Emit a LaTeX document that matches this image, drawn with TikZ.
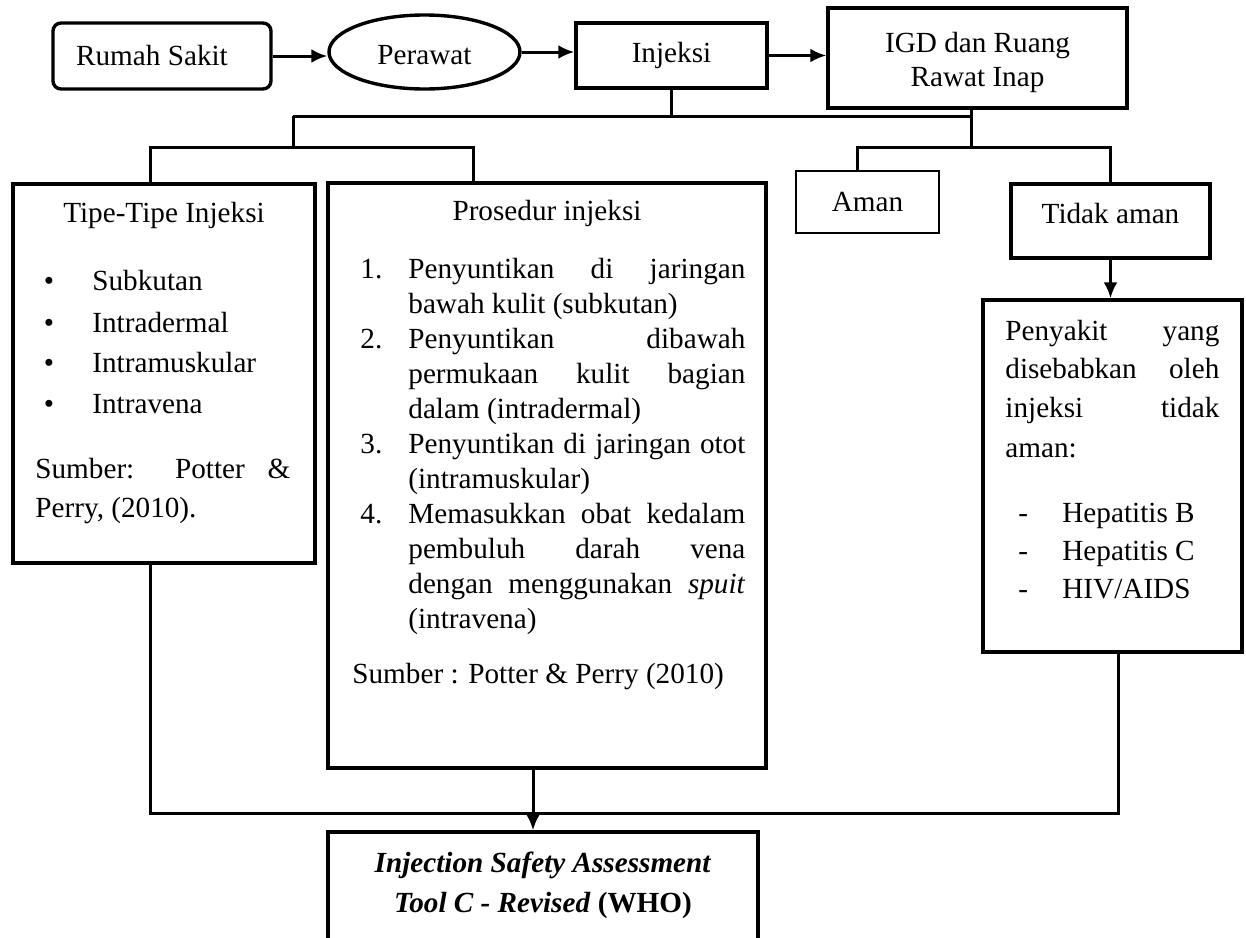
\documentclass[tikz,border=0pt]{standalone}
\usepackage{fontspec}
\setmainfont{Liberation Serif}
\usetikzlibrary{shapes.geometric, arrows.meta}
\tikzset{>={Latex[length=8pt, width=7pt]}}
\tikzset{
  kotak/.style={shape=rectangle, draw, line width=1.7pt, inner sep=0pt},
  garis/.style={draw, line width=1.5pt},
  teks/.style={anchor=base west, inner sep=0pt},
}
\newcommand{\regang}[2][168.5pt]{\makebox[#1][s]{#2}}

\begin{document}
\begin{tikzpicture}[x=0.5pt, y=-0.5pt, font=\fontsize{14.6}{17}\selectfont]
    \clip (0,0) rectangle (1246,937);

    % baris atas
    \node at (162, 56) (rs) [kotak, rounded corners=4pt, minimum width=109pt, minimum height=33pt] {Rumah Sakit\kern10pt};
    \node at (424.5, 52) (per) [shape=ellipse, draw, line width=1.7pt, inner sep=0pt, text height=13pt, minimum width=95.5pt, minimum height=37pt] {Perawat};
    \node at (671.5, 55.5) (inj) [kotak, minimum width=95.5pt, minimum height=32.5pt] {Injeksi};
    \node at (977.5, 58) (igd) [kotak, align=center, minimum width=149.5pt, minimum height=50pt] {\rule{0pt}{15pt}IGD dan Ruang\\Rawat Inap};

    \path[->, draw, garis] (rs.east) -- (rs.east -| per.west);
    \path[->, draw, garis] (per.east) -- (per.east -| inj.west);
    \path[->, draw, garis] (inj.east) -- (inj.east -| igd.west);

    % kotak tengah
    \node at (164, 373.5) (tipe) [kotak, minimum width=151pt, minimum height=189.5pt] {};
    \node at (547, 475.5) (pros) [kotak, minimum width=219pt, minimum height=292.5pt] {};
    \node at (867.5, 202) (aman) [kotak, line width=1.3pt, inner sep=0pt, minimum width=71.5pt, minimum height=31pt] {Aman};
    \node at (1110.5, 221) (tidak) [kotak, text depth=8pt, minimum width=99.5pt, minimum height=37pt] {Tidak aman};
    \node at (1112.5, 476) (peny) [kotak, minimum width=129.5pt, minimum height=176pt] {};
    \node at (543, 916) (who) [kotak, minimum width=215pt, minimum height=84pt] {};

    % cabang
    \coordinate (bagi1) at (293, 116);
    \coordinate (bagi2) at (293, 147);
    \coordinate (igdbawah) at ([xshift=-3pt]igd.south);
    \coordinate (tipeatas) at ([xshift=-7pt]tipe.north);
    \coordinate (prosatas) at ([xshift=-37pt]pros.north);
    \coordinate (amanatas) at ([xshift=-5pt]aman.north);
    \draw[garis] (inj.south) -- (inj.south |- bagi1);
    \draw[garis] (bagi1) -- (bagi1 -| igdbawah);
    \draw[garis] (bagi1) -- (bagi2);
    \draw[garis] (tipeatas) |- (bagi2) -| (prosatas);
    \draw[garis] (igdbawah) -- (igdbawah |- bagi2);
    \draw[garis] (amanatas) -- (amanatas |- bagi2) -| (tidak.north);
    \path[->, draw, garis] (tidak.south) -- (peny.north -| tidak.south);

    % gabungan bawah
    \coordinate (tipebawah) at ([xshift=-7pt]tipe.south);
    \coordinate (penybawah) at ([xshift=2.75pt]peny.south);
    \coordinate (prosbawah) at ([xshift=-7pt]pros.south);
    \coordinate (gabung) at (0, 813);
    \draw[garis] (tipebawah) |- (penybawah |- gabung) -- (penybawah);
    \path[->, draw, garis] (prosbawah) -- (prosbawah |- who.north);

    % isi Tipe-Tipe Injeksi
    \node at (164, 222) (tipe-judul) [anchor=base, inner sep=0pt] {Tipe-Tipe Injeksi};
    \foreach \y/\isi [count=\i] in {290/Subkutan, 332/Intradermal, 372/Intramuskular, 413/Intravena} {
      \node at (49, \y) (tipe-b\i) [anchor=base, inner sep=0pt] {\textbullet};
      \node at (92, \y) (tipe-i\i) [teks] {\isi};
    }
    \node at (35, 478) (tipe-s1) [teks] {\regang[127.5pt]{Sumber: Potter \&}};
    \node at (35, 517) (tipe-s2) [teks] {Perry, (2010).};

    % isi Prosedur injeksi
    \node at (547, 220) (pros-judul) [anchor=base, inner sep=0pt] {Prosedur injeksi};
    \foreach \y/\no in {278/1., 348/2., 453/3., 523/4.} {
      \node at (360, \y) (pros-n\no) [teks] {\no};
    }
    \foreach \y/\isi [count=\i] in {
        278/{\regang{Penyuntikan di jaringan}},
        313/{bawah kulit (subkutan)},
        348/{\regang{Penyuntikan dibawah}},
        383/{\regang{permukaan kulit bagian}},
        418/{dalam (intradermal)},
        453/{\regang{Penyuntikan di jaringan otot}},
        488/{(intramuskular)},
        523/{\regang{Memasukkan obat kedalam}},
        558/{\regang{pembuluh darah vena}},
        593/{\regang{dengan menggunakan \textit{spuit}}},
        628/{(intravena)}} {
      \node at (408, \y) (pros-l\i) [teks] {\isi};
    }
    \node at (352, 683) (pros-s) [teks] {Sumber : Potter \& Perry (2010)};

    % isi Penyakit
    \node at (1005, 340) (peny-1) [teks] {\regang[107pt]{Penyakit yang}};
    \node at (1005, 378) (peny-2) [teks] {\regang[107pt]{disebabkan oleh}};
    \node at (1005, 417) (peny-3) [teks] {\regang[107pt]{injeksi tidak}};
    \node at (1005, 457) (peny-4) [teks] {aman:};
    \foreach \y/\isi [count=\i] in {522/{Hepatitis B}, 560/{Hepatitis C}, 598/{HIV/AIDS}} {
      \node at (1018, \y) (peny-d\i) [teks] {-};
      \node at (1062, \y) (peny-i\i) [teks] {\isi};
    }

    % isi WHO
    \node at (543, 872) (who-1) [anchor=base, inner sep=0pt] {\textbf{\textit{Injection Safety Assessment}}};
    \node at (543, 912) (who-2) [anchor=base, inner sep=0pt] {\textbf{\textit{Tool C - Revised}} \textbf{(WHO)}};
\end{tikzpicture}
\end{document}
